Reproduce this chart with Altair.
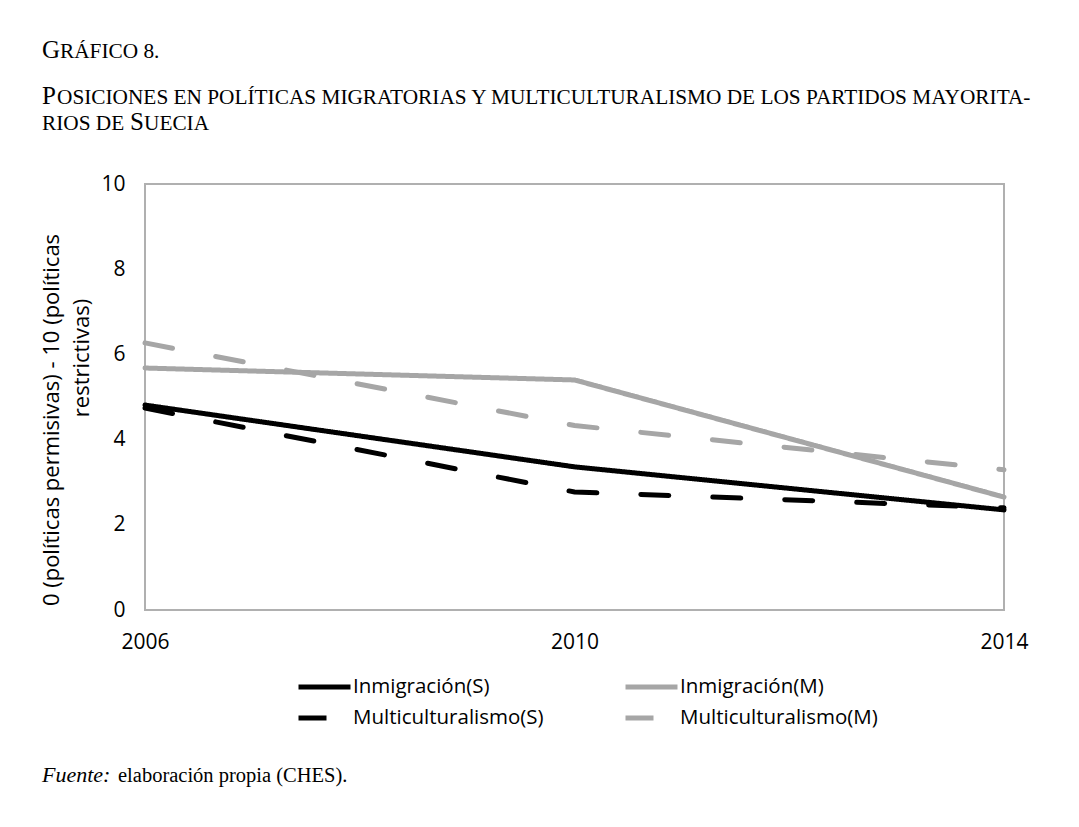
import altair as alt
import pandas as pd

years = [2006, 2010, 2014]
series_names = ["Inmigración(S)", "Multiculturalismo(S)", "Inmigración(M)", "Multiculturalismo(M)"]
inm_s = [4.81, 3.36, 2.35]
mult_s = [4.74, 2.77, 2.40]
inm_m = [5.68, 5.40, 2.65]
mult_m = [6.27, 4.33, 3.29]

ytitle1 = "0 (políticas permisivas) - 10 (políticas"
ytitle2 = "restrictivas)"
fuente_it = "Fuente:"
fuente_rest = "elaboración propia (CHES)."

rows = []
for name, vals in zip(series_names, [inm_s, mult_s, inm_m, mult_m]):
    for yr, v in zip(years, vals):
        rows.append({"serie": name, "year": yr, "value": v})
df = pd.DataFrame(rows)

SANS = "Open Sans"
SERIF = "Liberation Serif"
GRAY = "#a6a6a6"

lines = alt.Chart(df).mark_line(strokeWidth=5, strokeCap="round").encode(
    x=alt.X("year:Q", scale=alt.Scale(domain=[2006, 2014], nice=False),
            axis=alt.Axis(values=years, format="d", title=None, grid=False, domain=False,
                          ticks=False, labelPadding=21, labelFontSize=21, labelFont=SANS,
                          labelColor="#000", labelFlush=False)),
    y=alt.Y("value:Q", scale=alt.Scale(domain=[0, 10], nice=False),
            axis=alt.Axis(values=[0, 2, 4, 6, 8, 10], title=None, grid=False, domain=False,
                          ticks=False, labelPadding=20, labelFontSize=21, labelFont=SANS,
                          labelColor="#000")),
    color=alt.Color("serie:N", scale=alt.Scale(domain=series_names,
                                                range=["#000000", "#000000", GRAY, GRAY]),
                    legend=alt.Legend(title=None, orient="none", legendX=151, legendY=491,
                                      columns=2, columnPadding=79, rowPadding=7, clipHeight=24,
                                      symbolType="stroke", symbolSize=2704, symbolStrokeWidth=5,
                                      symbolOffset=0, labelOffset=0, labelLimit=400,
                                      labelFontSize=20.5, labelFont=SANS, labelColor="#000")),
    strokeDash=alt.StrokeDash("serie:N", scale=alt.Scale(domain=series_names,
                                                          range=[[1, 0], [28, 44], [1, 0], [28, 44]]),
                              legend=None),
    detail="serie:N",
)

def txt(text, x, y, size, font, style="normal", angle=0, align="left", baseline="alphabetic"):
    return alt.Chart(pd.DataFrame({"t": [text]})).mark_text(
        font=font, fontSize=size, fontStyle=style, angle=angle, align=align,
        baseline=baseline, color="#000"
    ).encode(text="t:N", x=alt.value(x), y=alt.value(y))

BIG = 25
SMALL = 21.3
texts = [
    # "Gráfico 8." in small caps
    txt("G", -103, -126, BIG, SERIF),
    txt("RÁFICO 8.", -85, -126, SMALL, SERIF),
    # subtitle line 1
    txt("P", -103, -80, BIG, SERIF),
    txt("OSICIONES EN POLÍTICAS MIGRATORIAS Y MULTICULTURALISMO DE LOS PARTIDOS MAYORITA-", -88, -80, SMALL, SERIF),
    # subtitle line 2
    txt("RIOS DE", -103, -54, SMALL, SERIF),
    txt("S", -15, -54, BIG, SERIF),
    txt("UECIA", -1, -54, SMALL, SERIF),
    # y axis title
    txt(ytitle1, -93, 236, 22, SANS, angle=270, align="center", baseline="middle"),
    txt(ytitle2, -63, 174, 22, SANS, angle=270, align="center", baseline="middle"),
    # source
    txt(fuente_it, -103, 598, 22, SERIF, style="italic"),
    txt(fuente_rest, -27, 598, 20.5, SERIF),
]

chart = alt.layer(lines, *texts).properties(
    width=859, height=426,
    autosize=alt.AutoSizeParams(type="none"),
    padding={"left": 137, "top": 176, "right": 67, "bottom": 209},
    background="white",
).configure_view(stroke="#b0b0b0", strokeWidth=2)

chart.save("out.html", embed_options={"renderer": "svg", "actions": False})
